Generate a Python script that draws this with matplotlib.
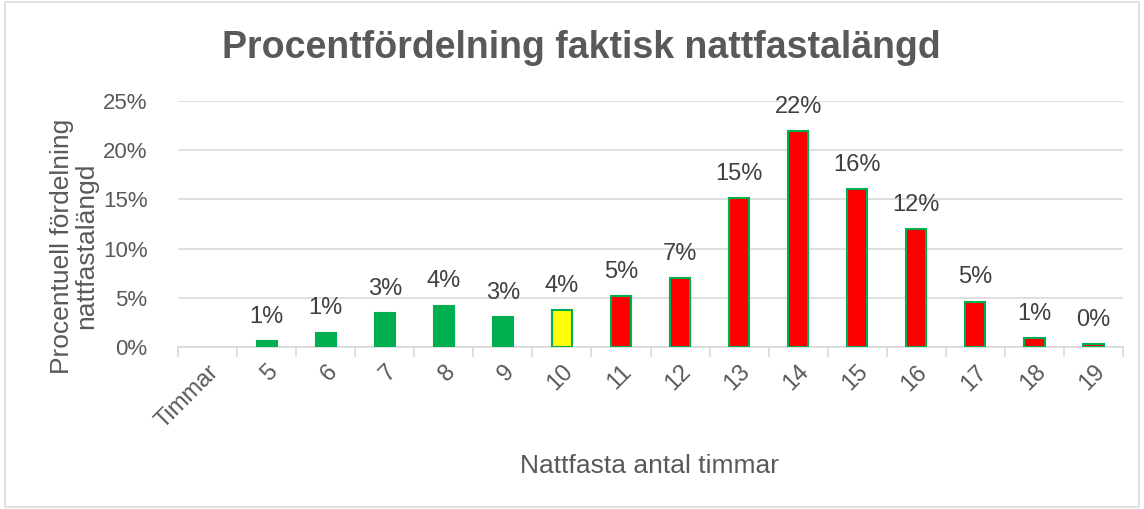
import numpy as np
import matplotlib.pyplot as plt
from matplotlib.patches import Rectangle

plt.rcParams['font.family'] = ['Liberation Sans', 'DejaVu Sans']

categories = ['Timmar', '5', '6', '7', '8', '9', '10', '11', '12', '13',
              '14', '15', '16', '17', '18', '19']
values = [np.nan, 0.6, 1.45, 3.45, 4.2, 3.0, 3.76, 5.2, 7.0, 15.1,
          21.9, 16.05, 12.0, 4.6, 0.9, 0.3]
fill_colors = ['#00B050'] * 6 + ['#FFFF00'] + ['#FF0000'] * 9
edge_colors = ['#00B050'] * 16

TEXT = '#595959'

fig = plt.figure(figsize=(11.44, 5.09), dpi=100)
ax = fig.add_axes([0.1556, 0.3183, 0.9817 - 0.1556, 0.8016 - 0.3183])

x = np.arange(len(categories))
ax.bar(x, values, width=0.34, color=fill_colors, edgecolor=edge_colors,
       linewidth=1.5, zorder=3)

for xi, v in zip(x, values):
    if not np.isnan(v):
        ax.text(xi, v + 1.35, '%.0f%%' % v, ha='center', va='bottom',
                fontsize=17, color='#404040')

ax.set_xlim(-0.5, len(categories) - 0.5)
ax.set_ylim(0, 25)
ax.set_yticks(np.arange(0, 26, 5))
ax.set_yticklabels(['%d%%' % t for t in range(0, 26, 5)])
ax.yaxis.grid(True, color='#D9D9D9', linewidth=1.2, zorder=0)
ax.set_axisbelow(True)

ax.set_xticks(x)
ax.set_xticklabels(categories, rotation=45, ha='right', rotation_mode='anchor')
ax.set_xticks(np.arange(-0.5, len(categories), 1), minor=True)
ax.tick_params(axis='x', which='major', length=0, labelsize=17, colors=TEXT, pad=10)
ax.tick_params(axis='x', which='minor', length=7, color='#D9D9D9', width=1.2)
ax.tick_params(axis='y', length=0, labelsize=16, colors=TEXT, pad=22)

for s in ['top', 'right', 'left']:
    ax.spines[s].set_visible(False)
ax.spines['bottom'].set_color('#D9D9D9')
ax.spines['bottom'].set_linewidth(1.2)

ax.set_ylabel('Procentuell fördelning\nnattfastalängd', fontsize=19, color=TEXT,
              linespacing=1.05)
ax.yaxis.set_label_coords(-0.084, 0.41)
fig.text(0.568, 0.085, 'Nattfasta antal timmar', ha='center', va='center',
         fontsize=19, color=TEXT)
fig.text(0.508, 0.905, 'Procentfördelning faktisk nattfastalängd', ha='center',
         va='center', fontsize=27, fontweight='bold', color=TEXT)

fig.patches.append(Rectangle((0.004, 0.004), 0.992, 0.992, transform=fig.transFigure,
                             fill=False, edgecolor='#D9D9D9', linewidth=1.2))

plt.savefig('out.png', dpi=100)
